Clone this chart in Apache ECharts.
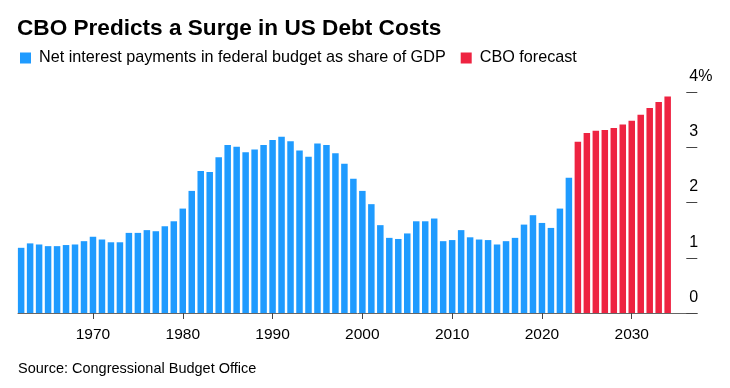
<!DOCTYPE html>
<html>
<head>
<meta charset="utf-8">
<script src="https://cdn.jsdelivr.net/npm/echarts@6/dist/echarts.min.js"></script>
<style>
html,body{margin:0;padding:0;background:#fff;}
#chart{width:730px;height:388px;}
</style>
</head>
<body>
<div id="chart"></div>
<script>
// Actual net interest (share of GDP, %), 1962-2023
const actualYears = [];
for (let y = 1962; y <= 2023; y++) actualYears.push(y);
const actualValues = [
  1.18, 1.26, 1.24, 1.21, 1.21, 1.23, 1.24, 1.30, 1.38, 1.33,
  1.28, 1.28, 1.45, 1.45, 1.50, 1.48, 1.57, 1.66, 1.89, 2.21,
  2.57, 2.55, 2.82, 3.04, 3.01, 2.91, 2.96, 3.04, 3.13, 3.19,
  3.11, 2.94, 2.83, 3.07, 3.04, 2.89, 2.70, 2.43, 2.21, 1.97,
  1.59, 1.36, 1.34, 1.44, 1.66, 1.66, 1.71, 1.30, 1.32, 1.50,
  1.37, 1.33, 1.32, 1.24, 1.30, 1.36, 1.60, 1.77, 1.63, 1.54,
  1.89, 2.45
];
// CBO forecast, 2024-2034
const forecastYears = [];
for (let y = 2024; y <= 2034; y++) forecastYears.push(y);
const forecastValues = [3.10, 3.26, 3.30, 3.31, 3.35, 3.41, 3.48, 3.59, 3.71, 3.82, 3.92];

const xTickLabels = [1970, 1980, 1990, 2000, 2010, 2020, 2030];
const yTicks = [0, 1, 2, 3, 4];

const seriesNames = ['Net interest payments in federal budget as share of GDP', 'CBO forecast'];
const titleText = 'CBO Predicts a Surge in US Debt Costs';
const sourceText = 'Source: Congressional Budget Office';

const BLUE = '#1F9BFF';
const RED = '#EE2341';

const chart = echarts.init(document.getElementById('chart'), null, {renderer: 'canvas'});
chart.setOption({
  animation: false,
  backgroundColor: '#fff',
  textStyle: {fontFamily: '"Liberation Sans", Arial, sans-serif'},
  title: [
    {text: titleText, left: 17, top: 17, padding: 0,
     textStyle: {fontSize: 22.6, fontWeight: 'bold', color: '#000', fontFamily: '"Liberation Sans", Arial, sans-serif'}},
    {text: sourceText, left: 18, top: 361, padding: 0,
     textStyle: {fontSize: 14.5, fontWeight: 'normal', color: '#000', fontFamily: '"Liberation Sans", Arial, sans-serif'}}
  ],
  legend: {
    left: 20, top: 50, padding: 0,
    itemWidth: 11, itemHeight: 11, itemGap: 15,
    icon: 'rect',
    data: seriesNames,
    textStyle: {fontSize: 16.2, color: '#000', padding: [0, 0, 0, 3]}
  },
  grid: {left: 18, right: 32.7, top: 92, bottom: 75},
  xAxis: {
    type: 'value',
    min: 1961.65, max: 2037.3,
    splitLine: {show: false},
    axisLine: {show: true, lineStyle: {color: '#666', width: 1}},
    axisTick: {show: true, length: 6, lineStyle: {color: '#444'}, customValues: xTickLabels},
    axisLabel: {show: true, margin: 14, fontSize: 15.5, color: '#000', customValues: xTickLabels,
      formatter: v => String(v)}
  },
  yAxis: {
    type: 'value',
    position: 'right',
    min: yTicks[0], max: yTicks[yTicks.length - 1], interval: 1,
    splitLine: {show: false},
    axisLine: {show: false},
    axisTick: {show: true, inside: true, length: 11, lineStyle: {color: '#444'}},
    axisLabel: {inside: true, margin: 8, align: 'left', verticalAlign: 'bottom', lineHeight: 31,
      fontSize: 16, color: '#000',
      formatter: v => (v === 4 ? '4%' : String(v))}
  },
  series: [
    {name: seriesNames[0], type: 'bar', barWidth: 6.5, barGap: '-100%',
     itemStyle: {color: BLUE},
     data: actualYears.map((y, i) => [y, actualValues[i]])},
    {name: seriesNames[1], type: 'bar', barWidth: 6.5, barGap: '-100%',
     itemStyle: {color: RED},
     data: forecastYears.map((y, i) => [y, forecastValues[i]])}
  ]
});
</script>
</body>
</html>
